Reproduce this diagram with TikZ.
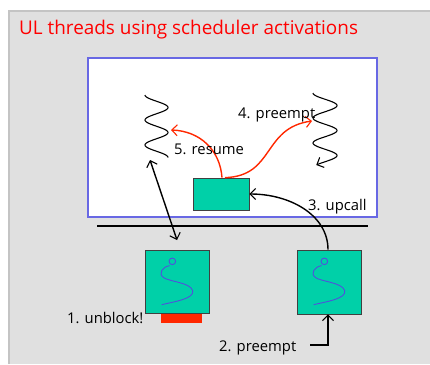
\documentclass[tikz,border=0pt]{standalone}
\usepackage{fontspec}
\setmainfont{Open Sans}
\usetikzlibrary{arrows.meta}
\definecolor{panelgray}{RGB}{224,224,224}
\definecolor{paneledge}{RGB}{196,196,196}
\definecolor{frameblue}{RGB}{104,104,228}
\definecolor{procgreen}{RGB}{0,208,168}
\definecolor{hotred}{RGB}{255,40,0}
\definecolor{thrblue}{RGB}{80,80,220}
\tikzset{
  barb/.tip={Straight Barb[length=5.5pt,width=11pt,line width=1.1pt]},
  tip/.style={-barb},
  greenbox/.style={draw=black!75,fill=procgreen,line width=0.7pt,inner sep=0pt},
  lbl/.style={font=\fontsize{14.8}{17}\selectfont,inner sep=0pt,anchor=base west},
  squig/.style={black,line width=1.1pt},
  redarrow/.style={hotred,line width=1.4pt,tip},
  blackarrow/.style={black,line width=1.4pt,tip},
  thr/.pic={
    \draw[thrblue,line width=0.9pt] (27.7,11.7) circle (3.3);
    \draw[thrblue,line width=0.9pt]
      (25,16) .. controls (18,17) and (13,24) .. (19,28)
      .. controls (25,32) and (46,33) .. (48,41)
      .. controls (50,49) and (30,52) .. (17,55);
  }
}
\begin{document}
\begin{tikzpicture}[x=1pt,y=-1pt]
  \useasboundingbox (0,0) rectangle (430,364);
  \fill[white] (0,0) rectangle (430,364);
  % slide panel
  \fill[panelgray] (8,10) rectangle (430,364);
  \draw[paneledge,line width=1.5pt] (8.75,364) -- (8.75,10.75) -- (430,10.75);

  \node[lbl,text=red,font=\fontsize{18.9}{22}\selectfont] (title) at (19,34)
    {UL threads using scheduler activations};

  % address space
  \node[draw=frameblue,fill=white,line width=1.3pt,minimum width=289pt,
        minimum height=159pt,inner sep=0pt] (frame) at (232.5,137.5) {};

  % user-level threads (wavy lines, period 25)
  \draw[squig] plot[domain=0:62.5,samples=90,smooth]
    ({156.5-11.5*cos(14.4*\x)},{95+\x});
  \draw[squig,tip] plot[domain=0:72,samples=100,smooth]
    ({325-12*cos(14.4*\x)},{93+\x});
  \coordinate (lthr) at (171,130);
  \coordinate (lthrbot) at (150,160);
  \coordinate (rthr) at (312,121);

  % kernel/user boundary
  \coordinate (bndl) at (97,226);
  \coordinate (bndr) at (368,226);
  \draw[black,line width=2.6pt] (bndl) -- (bndr);

  % upcall handler
  \node[greenbox,minimum width=56pt,minimum height=32pt] (kbox) at (221,194) {};

  % processors
  \node[greenbox,minimum width=64pt,minimum height=63pt] (lbox) at (177,281.5) {};
  \node[greenbox,minimum width=64pt,minimum height=64pt] (rbox) at (329,282) {};
  \pic at (lbox.north west) {thr};
  \pic at (rbox.north west) {thr};
  \node[fill=hotred,minimum width=41pt,minimum height=9pt,inner sep=0pt,anchor=north]
    (blk) at (181.5,313.5) {};

  % events
  \draw[redarrow] ([xshift=1pt]kbox.north) .. controls (220,150) and (200,131) .. (lthr);
  \draw[redarrow] ([xshift=4pt]kbox.north) .. controls (275,176) and (262,128) .. (rthr);
  \draw[blackarrow] ([xshift=-1pt]rbox.north) .. controls (328,215) and (290,194) .. (kbox.east);
  \coordinate (lboxtop) at (177,240);
  \draw[black,line width=1.4pt,barb-barb] (lthrbot) -- (lboxtop);
  \coordinate (pstart) at (310,345);
  \draw[blackarrow] (pstart) -- (328,345) -- ([xshift=-1pt]rbox.south);

  % labels
  \node[lbl] (l5) at (174,154) {5. resume};
  \node[lbl] (l4) at (238,118) {4. preempt};
  \node[lbl] (l3) at (308,210) {3. upcall};
  \node[lbl] (l1) at (67,323) {1. unblock!};
  \node[lbl] (l2) at (219,351) {2. preempt};
\end{tikzpicture}
\end{document}
